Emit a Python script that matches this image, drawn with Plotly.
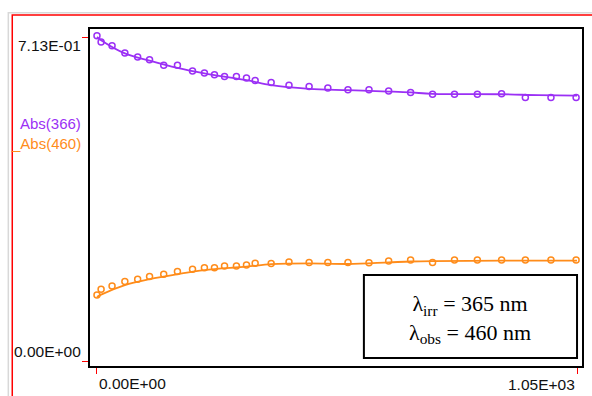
import plotly.graph_objects as go

# ---- data ----
t_pts = [0, 9, 33, 61, 89, 115, 146, 176, 209, 235, 257, 279, 305, 327, 346,
         381, 420, 464, 505, 549, 595, 638, 686, 734, 782, 832, 885, 937, 993, 1048]
abs366_pts = [0.716, 0.702, 0.694, 0.678, 0.669, 0.663, 0.651, 0.651, 0.638, 0.634,
              0.630, 0.626, 0.626, 0.623, 0.617, 0.613, 0.607, 0.604, 0.601, 0.597,
              0.597, 0.594, 0.591, 0.587, 0.587, 0.587, 0.588, 0.580, 0.580, 0.580]
abs460_pts = [0.145, 0.158, 0.165, 0.175, 0.180, 0.186, 0.191, 0.197, 0.202, 0.205,
              0.205, 0.209, 0.209, 0.211, 0.215, 0.2145, 0.218, 0.217, 0.217, 0.217,
              0.216, 0.220, 0.222, 0.217, 0.222, 0.222, 0.222, 0.222, 0.222, 0.222]

t_fit = [0, 9, 61, 115, 176, 235, 327, 381, 464, 549, 638, 686, 734, 885, 965, 1050]
abs366_fit = [0.713, 0.706, 0.677, 0.661, 0.645, 0.633, 0.618, 0.607, 0.599, 0.596,
              0.593, 0.591, 0.588, 0.587, 0.585, 0.584]
abs460_fit = [0.141, 0.146, 0.167, 0.180, 0.191, 0.200, 0.2075, 0.213, 0.215, 0.2135,
              0.217, 0.219, 0.220, 0.2207, 0.2207, 0.2207]

x_tick_vals = [0, 1050]
x_tick_text = ["0.00E+00", "1.05E+03"]
y_tick_vals = [0, 0.713]
y_tick_text = ["0.00E+00", "7.13E-01"]
series_names = ["Abs(366)", "_Abs(460)"]
note_lines = ["λ<sub>irr</sub> = 365 nm", "λ<sub>obs</sub> = 460 nm"]

PURPLE = "#9B30F5"
ORANGE = "#FF8C1A"

fig = go.Figure()
for fy, col in [(abs366_fit, PURPLE), (abs460_fit, ORANGE)]:
    fig.add_trace(go.Scatter(x=t_fit, y=fy, mode="lines", line=dict(color=col, width=1.8, shape="spline"),
                             showlegend=False, hoverinfo="skip"))
for py, col in [(abs366_pts, PURPLE), (abs460_pts, ORANGE)]:
    fig.add_trace(go.Scatter(x=t_pts, y=py, mode="markers",
                             marker=dict(symbol="circle-open", size=6, color=col, line=dict(width=1.5, color=col)),
                             showlegend=False))

fig.update_layout(
    width=592, height=396,
    margin=dict(l=90, r=8, t=29, b=30),
    paper_bgcolor="white", plot_bgcolor="white",
    font=dict(family="Liberation Sans, Arial, sans-serif", size=15, color="black"),
    xaxis=dict(range=[-15.25, 1060.9], showgrid=False, zeroline=False,
               showline=True, linecolor="black", linewidth=1.5, mirror=True,
               tickvals=x_tick_vals, ticktext=["", ""], ticks="outside", ticklen=6,
               tickcolor="red", tickwidth=1.2),
    yaxis=dict(range=[-0.011, 0.7306], showgrid=False, zeroline=False,
               showline=True, linecolor="black", linewidth=1.5, mirror=True,
               tickvals=y_tick_vals, ticktext=["", ""], ticks="outside", ticklen=6,
               tickcolor="red", tickwidth=1.2),
)

# outer red frame and faint grey frame
fig.add_shape(type="rect", xref="paper", yref="paper", x0=-0.166, x1=1.2, y0=-0.3, y1=1.048,
              line=dict(color="#D8D8D8", width=1.5), layer="below")
fig.add_shape(type="rect", xref="paper", yref="paper", x0=-0.158, x1=1.2, y0=-0.3, y1=1.0415,
              line=dict(color="red", width=1.5), layer="below")

tick_font = dict(size=15.5, color="#111111")
# tick labels
fig.add_annotation(text=y_tick_text[1], xref="paper", x=0, yref="y", y=y_tick_vals[1],
                   xanchor="right", yanchor="middle", xshift=-7, yshift=-8, showarrow=False, font=tick_font)
fig.add_annotation(text=y_tick_text[0], xref="paper", x=0, yref="y", y=y_tick_vals[0],
                   xanchor="right", yanchor="middle", xshift=-7, yshift=10, showarrow=False, font=tick_font)
fig.add_annotation(text=x_tick_text[0], xref="x", x=x_tick_vals[0], yref="paper", y=0,
                   xanchor="left", yanchor="middle", yshift=-17, showarrow=False, font=tick_font)
fig.add_annotation(text=x_tick_text[1], xref="x", x=x_tick_vals[1], yref="paper", y=0,
                   xanchor="right", yanchor="middle", yshift=-18, showarrow=False, font=tick_font)

# series labels
fig.add_annotation(text=series_names[0], xref="paper", x=0, yref="paper", y=0.721,
                   xanchor="right", yanchor="middle", xshift=-7, showarrow=False,
                   font=dict(size=15, color=PURPLE))
fig.add_annotation(text=series_names[1], xref="paper", x=0, yref="paper", y=0.659,
                   xanchor="right", yanchor="middle", xshift=-7, showarrow=False,
                   font=dict(size=15, color=ORANGE))

# note box
fig.add_shape(type="rect", xref="paper", yref="paper", x0=0.5567, x1=0.9899, y0=0.0237, y1=0.270,
              line=dict(color="black", width=2), fillcolor="white")
fig.add_annotation(text="<br>".join(note_lines), xref="paper", yref="paper", x=0.7733, y=0.138,
                   xanchor="center", yanchor="middle", showarrow=False,
                   font=dict(family="Liberation Serif, Times New Roman, serif", size=22, color="black"))

fig.write_html("out.html", config={"displayModeBar": False},
               post_script="document.body.style.margin='0';document.body.style.overflow='hidden';")
